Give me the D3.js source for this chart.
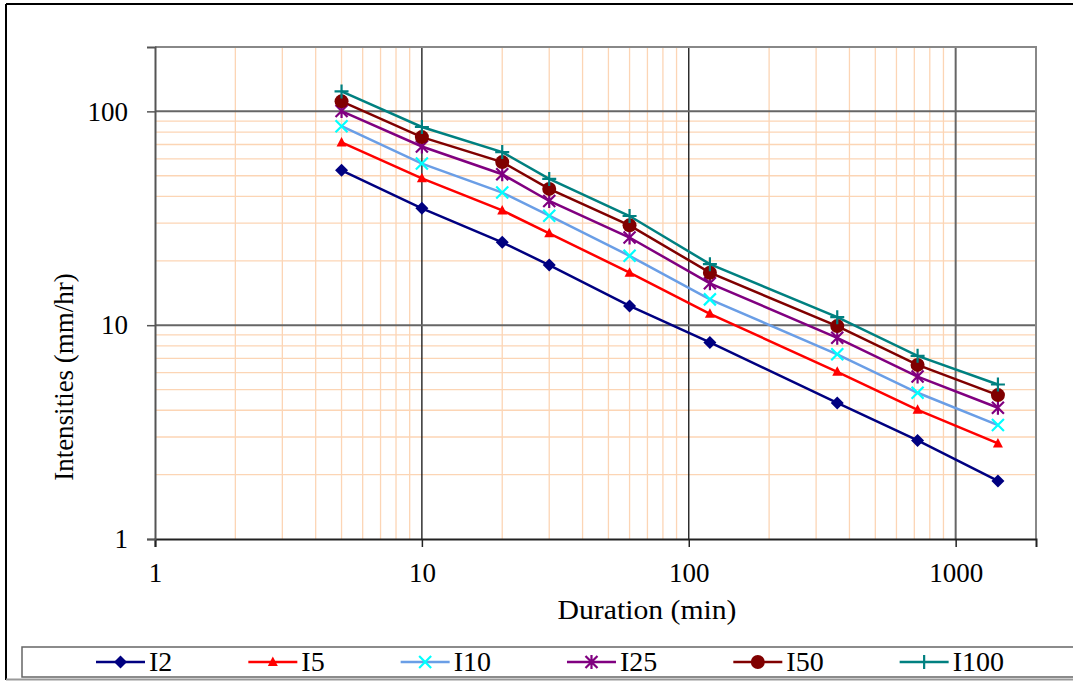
<!DOCTYPE html>
<meta charset="utf-8">
<style>
body { margin: 0; background: #fff; }
text { font-family: "Liberation Serif", "Times New Roman", serif; fill: #000; }
</style>
<svg id="chart" width="1073" height="681"></svg>
<script src="https://cdn.jsdelivr.net/npm/d3@7"></script>
<script>
// durations (min) and intensities (mm/hr)
var durations = [5, 10, 20, 30, 60, 120, 360, 720, 1440];
var seriesNames = ["I2", "I5", "I10", "I25", "I50", "I100"];
var i2   = [53.0, 35.2, 24.4, 19.1, 12.3, 8.3, 4.33, 2.89, 1.87];
var i5   = [71.6, 48.6, 34.4, 26.9, 17.6, 11.3, 6.05, 4.02, 2.80];
var i10  = [85.2, 57.0, 41.7, 32.5, 21.1, 13.2, 7.31, 4.83, 3.41];
var i25  = [100.3, 68.5, 50.8, 38.1, 25.7, 15.7, 8.73, 5.75, 4.11];
var i50  = [111.4, 75.8, 57.9, 43.4, 29.3, 17.6, 9.9, 6.52, 4.71];
var i100 = [124, 84.5, 64.5, 48.3, 32.4, 19.3, 10.9, 7.19, 5.28];
var xTicks = [1, 10, 100, 1000];
var yTicks = [1, 10, 100];

var seriesValues = [i2, i5, i10, i25, i50, i100];
var lineColor = ["#000080", "#ff0000", "#6a9ee6", "#800080", "#800000", "#008080"];
var markColor = ["#000080", "#ff0000", "#00ffff", "#800080", "#800000", "#008080"];
var markType = ["diamond", "triangle", "x", "star", "circle", "plus"];

var svg = d3.select("#chart");
var pLeft = 155, pRight = 1036, pTop = 47, pBottom = 539;

var x = d3.scaleLog().domain([1, 2000]).range([pLeft, pRight]);
var y = d3.scaleLog().domain([1, 200]).range([pBottom, pTop]);

// outer frame
svg.append("line").attr("x1", 6).attr("y1", 4).attr("x2", 1073).attr("y2", 4).attr("stroke", "#000").attr("stroke-width", 2);
svg.append("line").attr("x1", 6).attr("y1", 4).attr("x2", 6).attr("y2", 680).attr("stroke", "#000").attr("stroke-width", 2);
svg.append("line").attr("x1", 6).attr("y1", 679.5).attr("x2", 1073).attr("y2", 679.5).attr("stroke", "#999").attr("stroke-width", 2);

// minor grid
var xMinor = [], yMinor = [];
[1, 10, 100, 1000].forEach(function(d) {
  for (var k = 2; k <= 9; k++) if (d * k < 2000) xMinor.push(d * k);
});
[1, 10].forEach(function(d) {
  for (var k = 2; k <= 9; k++) yMinor.push(d * k);
});

var grid = svg.append("g");
grid.selectAll(".xm").data(xMinor).enter().append("line")
    .attr("x1", function(d){return x(d);}).attr("x2", function(d){return x(d);})
    .attr("y1", pTop).attr("y2", pBottom)
    .attr("stroke", "#fcd5b5").attr("stroke-width", 1.3);
grid.selectAll(".ym").data(yMinor).enter().append("line")
    .attr("y1", function(d){return y(d);}).attr("y2", function(d){return y(d);})
    .attr("x1", pLeft).attr("x2", pRight)
    .attr("stroke", "#fcd5b5").attr("stroke-width", 1.3);

// major grid
grid.selectAll(".xM").data(xTicks.slice(1)).enter().append("line")
    .attr("x1", function(d){return x(d);}).attr("x2", function(d){return x(d);})
    .attr("y1", pTop).attr("y2", pBottom)
    .attr("stroke", function(d){return d == 1000 ? "#666" : "#111";})
    .attr("stroke-width", function(d){return d == 1000 ? 2 : 1.3;});
grid.selectAll(".yM").data(yTicks.slice(1)).enter().append("line")
    .attr("y1", function(d){return y(d);}).attr("y2", function(d){return y(d);})
    .attr("x1", pLeft).attr("x2", pRight)
    .attr("stroke", "#666").attr("stroke-width", 2);

// plot border top/right
svg.append("path").attr("d", "M" + pLeft + "," + pTop + "H" + pRight + "V" + pBottom)
    .attr("fill", "none").attr("stroke", "#888").attr("stroke-width", 2);

// axes
var xAxis = svg.append("g").attr("transform", "translate(0," + pBottom + ")")
    .call(d3.axisBottom(x).tickValues(xTicks).tickFormat(d3.format("d")).tickSize(8).tickPadding(16));
var yAxis = svg.append("g").attr("transform", "translate(" + pLeft + ",0)")
    .call(d3.axisLeft(y).tickValues(yTicks).tickFormat(d3.format("d")).tickSize(8).tickPadding(19));
xAxis.select(".domain").attr("stroke", "#222").attr("stroke-width", 2);
yAxis.select(".domain").attr("stroke", "#555").attr("stroke-width", 2);
xAxis.selectAll(".tick line").attr("stroke", "#222").attr("stroke-width", 1.5);
yAxis.selectAll(".tick line").attr("stroke", "#555").attr("stroke-width", 1.5);
svg.selectAll(".tick text").attr("font-size", 27).attr("font-family", "Liberation Serif");

// axis titles (reference text is a bit stretched horizontally)
svg.append("text").attr("transform", "translate(647,619) scale(1.1,1)").attr("text-anchor", "middle")
    .attr("font-size", 27).text("Duration (min)");
svg.append("text").attr("transform", "translate(73,377) rotate(-90)").attr("text-anchor", "middle")
    .attr("font-size", 27).text("Intensities (mm/hr)");

function drawMarker(g, type, color, cx, cy) {
  var tr = "translate(" + cx + "," + cy + ")";
  if (type == "diamond") {
    g.append("path").attr("d", "M0,-6.5L6.5,0L0,6.5L-6.5,0Z").attr("fill", color).attr("transform", tr);
  } else if (type == "triangle") {
    g.append("path").attr("d", "M0,-5.5L5,4L-5,4Z").attr("fill", color).attr("transform", tr);
  } else if (type == "circle") {
    g.append("circle").attr("cx", cx).attr("cy", cy).attr("r", 7).attr("fill", color);
  } else {
    var s = 6, p = "";
    if (type == "x" || type == "star") p += "M-" + s + ",-" + s + "L" + s + "," + s + "M-" + s + "," + s + "L" + s + ",-" + s;
    if (type == "star") p += "M0,-" + (s + 1) + "V" + (s + 1);
    if (type == "plus") p += "M-" + (s + 1) + ",0H" + (s + 1) + "M0,-" + (s + 1) + "V" + (s + 1);
    g.append("path").attr("d", p).attr("fill", "none").attr("stroke", color).attr("stroke-width", 2.2)
      .attr("transform", tr);
  }
}

// series
var line = d3.line().x(function(d){return x(d[0]);}).y(function(d){return y(d[1]);});
seriesValues.forEach(function(vals, i) {
  var pts = durations.map(function(d, j){return [d, vals[j]];});
  svg.append("path").datum(pts).attr("d", line)
    .attr("fill", "none").attr("stroke", lineColor[i]).attr("stroke-width", 2.5);
});
seriesValues.forEach(function(vals, i) {
  var g = svg.append("g");
  durations.forEach(function(d, j) {
    drawMarker(g, markType[i], markColor[i], x(d), y(vals[j]));
  });
});

// legend
svg.append("rect").attr("x", 22).attr("y", 647).attr("width", 1070).attr("height", 30)
    .attr("fill", "#fff").attr("stroke", "#666").attr("stroke-width", 1.5);
var lx = 96;
seriesNames.forEach(function(name, i) {
  var g = svg.append("g");
  g.append("line").attr("x1", lx).attr("x2", lx + 49).attr("y1", 662).attr("y2", 662)
    .attr("stroke", lineColor[i]).attr("stroke-width", 2.5);
  drawMarker(g, markType[i], markColor[i], lx + 24.5, 662);
  var t = g.append("text").attr("x", lx + 53).attr("y", 671).attr("font-size", 28).text(name);
  lx += 53 + t.node().getComputedTextLength() + 76;
});
</script>
